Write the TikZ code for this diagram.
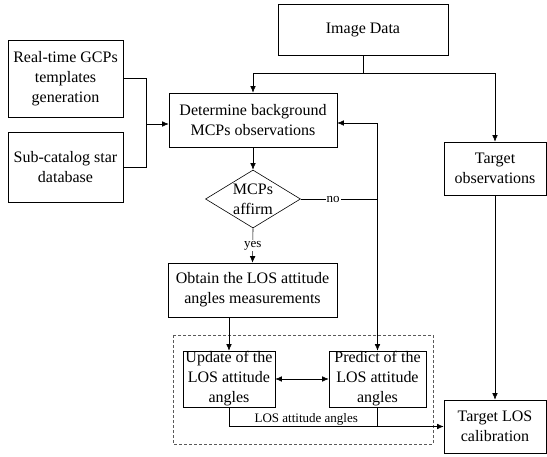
\documentclass[tikz,border=0pt]{standalone}
\usepackage{fontspec}
\setmainfont{Liberation Serif}
\usepackage{tikz}
\usetikzlibrary{arrows.meta,shapes,positioning,calc}

\begin{document}
\begin{tikzpicture}[x=1pt, y=-1pt, >={Latex[length=6.5pt,width=5.5pt]}, line width=0.6pt,
	box/.style={draw, align=center, inner sep=0pt, font=\fontsize{16}{20}\selectfont},
	lbl/.style={font=\fontsize{13}{15}\selectfont, inner sep=1pt}]
	\useasboundingbox (0,0) rectangle (547,456);

	\node (img) at (363, 29.5) [box, minimum width=170, minimum height=51] {Image Data};
	\node (rtg) at (65.5, 78.5) [box, minimum width=115, minimum height=77] {Real-time GCPs\\templates\\generation};
	\node (sub) at (65.5, 167) [box, minimum width=115, minimum height=70] {Sub-catalog star\\database};
	\node (det) at (253, 120) [box, minimum width=168, minimum height=54] {Determine background\\MCPs observations};
	\node (aff) at (253, 199) [draw, diamond, minimum width=95, minimum height=58, inner sep=0pt] {};
	\node (afftxt) at (aff) [align=center, font=\fontsize{16}{20}\selectfont, inner sep=0pt] {MCPs\\affirm};
	\node (obt) at (252.5, 290) [box, minimum width=169, minimum height=54] {Obtain the LOS attitude\\angles measurements};
	\node (upd) at (229, 379) [box, minimum width=92, minimum height=56] {Update of the\\LOS attitude\\angles};
	\node (pre) at (377.5, 379) [box, minimum width=97, minimum height=56] {Predict of the\\LOS attitude\\angles};
	\node (tob) at (495, 168.5) [box, minimum width=102, minimum height=53] {Target\\observations};
	\node (tlc) at (495, 426.5) [box, minimum width=102, minimum height=53] {Target LOS\\calibration};

	% filter block
	\draw [densely dashed, gray!70!black] (173, 335) rectangle (433, 444);

	% image data split
	\coordinate (split) at ($(img.south)+(0,18)$);
	\draw (img.south) -- (split);
	\draw [->] (split) -| (det.north);
	\draw [->] (split) -| (tob.north);

	% templates and catalog
	\coordinate (merge) at (146, 124);
	\draw (rtg.east) -| (merge);
	\draw (sub.east) -| (merge);
	\draw [->] (merge) -- (merge -| det.west);

	\draw [->] (det.south) -- (aff.north);
	\draw (aff.east) -- node [lbl, fill=white, pos=0.42] {no} (aff.east -| pre.north);
	\draw [<->] ([yshift=-3pt]det.east) -| (pre.north);
	\draw [->] (aff.south) -- node [lbl, fill=white] {yes} (obt.north);
	\draw [->] (obt.south -| upd.north) -- (upd.north);
	\draw [<->] (upd.east) -- (pre.west);
	\draw [->] (tob.south) -- (tlc.north);
	\draw [->] (upd.south) |- node [lbl, above, pos=0.68] {LOS attitude angles} (tlc.west);
	\draw (pre.south) -- (pre.south |- tlc.west);
\end{tikzpicture}
\end{document}
